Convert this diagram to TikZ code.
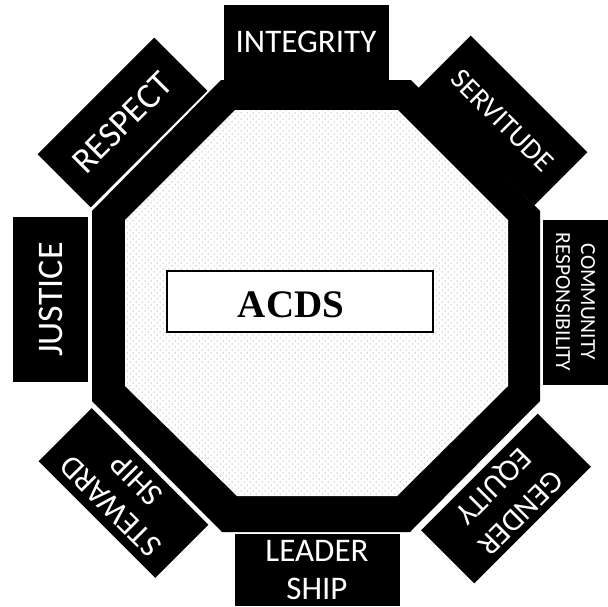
\documentclass[tikz,border=0pt]{standalone}
\usepackage{fontspec}
\newfontfamily\carlito{Carlito}
\newfontfamily\timesf{Liberation Serif}
\usetikzlibrary{patterns.meta}
\tikzdeclarepattern{
  name=sdots,
  type=uncolored,
  bottom left={(-.1pt,-.1pt)},
  top right={(6.1pt,6.1pt)},
  tile size={(6pt,6pt)},
  code={
    \pgfpathcircle{\pgfpoint{1pt}{1pt}}{0.5pt}
    \pgfpathcircle{\pgfpoint{4pt}{4pt}}{0.5pt}
    \pgfusepath{fill}
  }
}
\begin{document}
\begin{tikzpicture}[x=1pt,y=-1pt,
  lbl/.style={fill=black, text=white, inner sep=0pt, minimum width=165pt,
    minimum height=75pt, align=center}]
\useasboundingbox (0,0) rectangle (608,606);
\clip (0,0) rectangle (608,606);
% octagon band
\fill[black] (221,80) -- (411,80) -- (540,211) -- (540,401) -- (410,532)
  -- (222,532) -- (92,401) -- (92,211) -- cycle;
\fill[white] (235,110) -- (398,110) -- (508,220) -- (508,386) -- (397,496)
  -- (237,496) -- (125,386) -- (125,220) -- cycle;
\fill[pattern=sdots, pattern color=black!60] (235,110) -- (398,110) -- (508,220)
  -- (508,386) -- (397,496) -- (237,496) -- (125,386) -- (125,220) -- cycle;
% centre box
\node[draw, line width=1.5pt, fill=white, minimum width=266pt,
  minimum height=61pt, inner sep=0pt] (box) at (300,301.5) {};
\node[font=\timesf\bfseries\fontsize{39}{45}\selectfont, inner sep=0pt]
  (acds) at (291,305) {ACDS};
% labels
\node[lbl, font=\carlito\fontsize{33}{40}\selectfont] (integrity) at (306,42) {INTEGRITY};
\node[lbl, rotate=45, font=\carlito\fontsize{36}{40}\selectfont] (respect) at (122.5,122.5) {RESPECT};
\node[lbl, rotate=-45, font=\carlito\fontsize{29}{34}\selectfont] (servitude) at (502.5,120.5) {SERVITUDE};
\node[lbl, rotate=90, font=\carlito\fontsize{36}{40}\selectfont] (justice) at (50.5,299.5) {JUSTICE};
\node[lbl, rotate=-90, font=\carlito\fontsize{21.5}{25}\selectfont, minimum height=65pt] (community) at (575.5,302) {COMMUNITY\\RESPONSIBILITY};
\node[lbl, minimum height=72pt, font=\carlito\fontsize{33}{38}\selectfont] (leadership) at (317,570) {LEADER\\SHIP};
\node[lbl, rotate=225, font=\carlito\fontsize{31}{38}\selectfont] (gender) at (506,498.5) {GENDER\\EQUITY};
\node[lbl, rotate=135, font=\carlito\fontsize{32}{37}\selectfont] (steward) at (123.5,493) {STEWARD\\SHIP};
\end{tikzpicture}
\end{document}
